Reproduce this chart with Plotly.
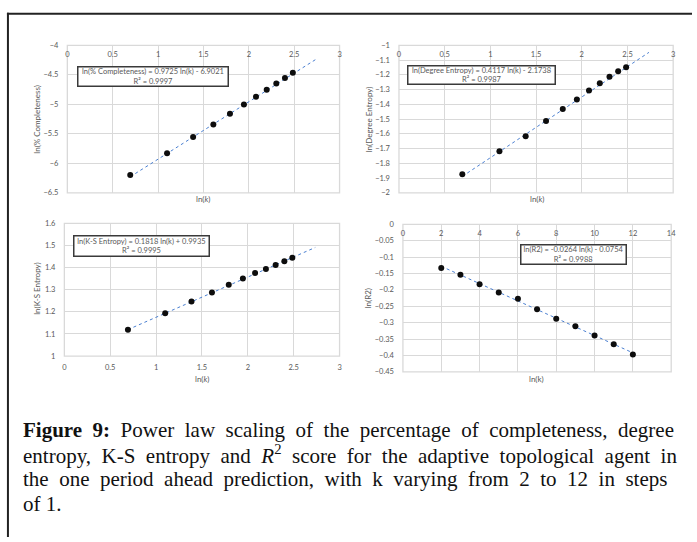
import numpy as np
import plotly.graph_objects as go

W, H = 697, 542

# ---------------- data ----------------
k_values = [2, 3, 4, 5, 6, 7, 8, 9, 10, 11, 12]
ln_k = [0.693, 1.099, 1.386, 1.609, 1.792, 1.946, 2.079, 2.197, 2.303, 2.398, 2.485]

ln_completeness = [-6.20, -5.83, -5.553, -5.342, -5.158, -5.004, -4.870, -4.752, -4.648, -4.553, -4.465]
ln_degree_entropy = [-1.875, -1.719, -1.617, -1.514, -1.432, -1.367, -1.306, -1.258, -1.214, -1.176, -1.148]
ln_ks_entropy = [1.119, 1.194, 1.247, 1.287, 1.322, 1.351, 1.375, 1.394, 1.412, 1.428, 1.444]
ln_r2 = [-0.133, -0.154, -0.183, -0.208, -0.227, -0.259, -0.288, -0.311, -0.339, -0.366, -0.397]

# trendline coefficients (as printed on the chart)
fit_completeness = (0.9725, -6.9021, 0.9997)
fit_degree = (0.4117, -2.1738, 0.9987)
fit_ks = (0.1818, 0.9935, 0.9995)
fit_r2 = (-0.0264, -0.0754, 0.9988)
forecast_forward = 0.25

# ---------------- style ----------------
GRID = "#d9d9d9"
TXT = "#595959"
FONT = "Lato"
MARK = "#0d0d0d"
TREND = "#4a7fd0"

def px_x(p):
    return p / W

def px_y(p):
    return 1 - p / H

fig = go.Figure()

panels = [
    dict(x=ln_k, y=ln_completeness, fit=fit_completeness, xr=[0, 3], yr=[-6.5, -4], dx=0.5, dy=0.5,
         xd=(66, 341), yd=(42, 192), top=True, forecast=True),
    dict(x=ln_k, y=ln_degree_entropy, fit=fit_degree, xr=[0, 3], yr=[-2, -1], dx=0.5, dy=0.1,
         xd=(401, 678), yd=(42, 192), top=True, forecast=True),
    dict(x=ln_k, y=ln_ks_entropy, fit=fit_ks, xr=[0, 3], yr=[1, 1.6], dx=0.5, dy=0.1,
         xd=(63, 341), yd=(223, 358), top=False, forecast=True),
    dict(x=k_values, y=ln_r2, fit=fit_r2, xr=[0, 14], yr=[-0.45, 0], dx=2, dy=0.05,
         xd=(405, 676), yd=(224, 374), top=True, forecast=False),
]

layout_axes = {}
shapes = []
for i, p in enumerate(panels, start=1):
    xa = "x" if i == 1 else f"x{i}"
    ya = "y" if i == 1 else f"y{i}"
    slope, intercept, _ = p["fit"]
    x0 = p["x"][0]
    x1 = p["x"][-1] + (forecast_forward if p["forecast"] else 0)
    tx = np.array([x0, x1])
    ty = slope * tx + intercept
    fig.add_trace(go.Scatter(x=tx, y=ty, mode="lines", xaxis=xa, yaxis=ya,
                             line=dict(color=TREND, width=1, dash="dot"),
                             hoverinfo="skip", showlegend=False))
    fig.add_trace(go.Scatter(x=p["x"], y=p["y"], mode="markers", xaxis=xa, yaxis=ya,
                             marker=dict(color=MARK, size=6), showlegend=False))
    xkey = "xaxis" if i == 1 else f"xaxis{i}"
    ykey = "yaxis" if i == 1 else f"yaxis{i}"
    xaxis = dict(domain=[px_x(p["xd"][0]), px_x(p["xd"][1])], range=p["xr"], dtick=p["dx"], tick0=0,
                 showgrid=True, gridcolor=GRID, gridwidth=1.3, zeroline=False,
                 showline=False, ticks="", side="bottom",
                 tickfont=dict(family=FONT, size=7.5, color=TXT), fixedrange=True)
    if p["top"]:
        xaxis.update(anchor="free", position=px_y(p["yd"][0]), ticklabelstandoff=3)
    else:
        xaxis.update(anchor=ya, ticklabelstandoff=5)
    yaxis = dict(domain=[px_y(p["yd"][1]), px_y(p["yd"][0])], range=p["yr"], dtick=p["dy"],
                 tick0=0, anchor=xa, showgrid=True, gridcolor=GRID, gridwidth=1.3, zeroline=False,
                 showline=False, ticks="", ticklabelstandoff=8,
                 tickfont=dict(family=FONT, size=7.5, color=TXT), fixedrange=True)
    layout_axes[xkey] = xaxis
    layout_axes[ykey] = yaxis
    shapes.append(dict(type="rect", xref=f"{xa} domain", yref=f"{ya} domain", x0=0, x1=1, y0=0, y1=1,
                       line=dict(color=GRID, width=1.3), layer="below"))

annotations = []

def eq_box(text, cx, cy, w, h):
    annotations.append(dict(text=text, xref="paper", yref="paper", x=px_x(cx), y=px_y(cy),
                            xanchor="center", yanchor="middle", showarrow=False,
                            font=dict(family=FONT, size=7.5, color=TXT), align="center",
                            bgcolor="white", bordercolor="#3a3a3a", borderwidth=1.5, borderpad=0,
                            width=w, height=h))

def fmt_eq(label, fit, var="ln(k)"):
    s, b, r2 = fit
    sign = "+" if b >= 0 else "-"
    return f"{label} = {s:.4f} {var} {sign} {abs(b):.4f}<br>R² = {r2:.4f}"

eq_box(fmt_eq("ln(% Completeness)", fit_completeness), (77 + 229) / 2, (63 + 84) / 2, 149, 18)
eq_box(fmt_eq("ln(Degree Entropy)", fit_degree), (410 + 559) / 2, (63 + 82) / 2, 146, 17)
eq_box(fmt_eq("ln(K-S Entropy)", fit_ks), (72 + 209) / 2, (235 + 257) / 2, 134, 19)
eq_box(fmt_eq("ln(R2)", fit_r2), (524 + 631) / 2, (244 + 265) / 2, 104, 18)

def axis_title(text, cx, cy, angle=0):
    annotations.append(dict(text=text, xref="paper", yref="paper", x=px_x(cx), y=px_y(cy),
                            xanchor="center", yanchor="middle", showarrow=False, textangle=angle,
                            font=dict(family=FONT, size=8, color=TXT)))

axis_title("ln(<i>k</i>)", 203, 198)
axis_title("ln(<i>k</i>)", 540, 198)
axis_title("ln(<i>k</i>)", 202, 381)
axis_title("ln(k)", 540, 381)
axis_title("ln(% Completeness)", 35, 117, -90)
axis_title("ln(Degree Entropy)", 371, 117, -90)
axis_title("ln(K-S Entropy)", 36, 290, -90)
axis_title("ln(R2)", 370, 299, -90)

caption_lines = [
    "<b>Figure 9:</b> Power law scaling of the percentage of completeness, degree",
    "entropy, K-S entropy and <i>R</i><sup>2</sup> score for the adaptive topological agent in",
    "the one period ahead prediction, with k varying from 2 to 12 in steps",
    "of 1.",
]
gap_extra = ["\u2008", "\u2008", "\u2008", ""]
for j, line in enumerate(caption_lines):
    if gap_extra[j]:
        parts = line.split(" ")
        line = (" " + gap_extra[j]).join(parts)
    annotations.append(dict(text=line, xref="paper", yref="paper", x=px_x(19), y=px_y(433 + 25 * j),
                            xanchor="left", yanchor="middle", showarrow=False, align="left",
                            font=dict(family="Liberation Serif", size=21, color="#111111")))

shapes += [
    dict(type="line", xref="paper", yref="paper", x0=px_x(5), x1=1, y0=px_y(10), y1=px_y(10),
         line=dict(color="#222222", width=2)),
    dict(type="line", xref="paper", yref="paper", x0=px_x(6), x1=px_x(6), y0=px_y(9), y1=0,
         line=dict(color="#222222", width=2)),
]

fig.update_layout(width=W, height=H, margin=dict(l=0, r=0, t=0, b=0),
                  paper_bgcolor="white", plot_bgcolor="white", showlegend=False,
                  annotations=annotations, shapes=shapes, **layout_axes)

fig.write_html("out.html", config={"displayModeBar": False})
